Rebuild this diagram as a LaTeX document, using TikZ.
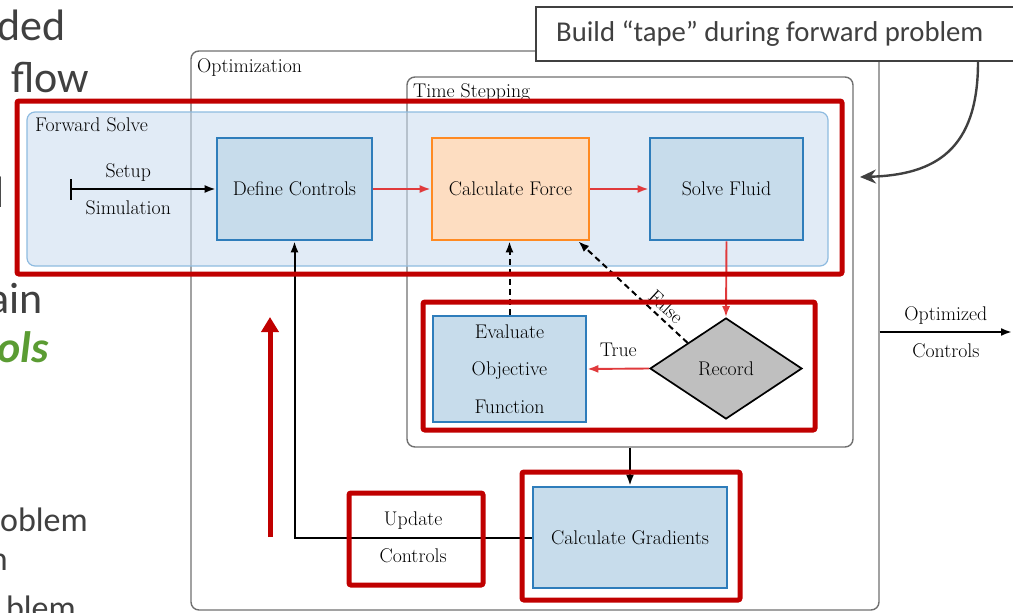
\documentclass[tikz,border=0pt]{standalone}
\usepackage{fontspec}
\newfontfamily\slidefont{Carlito}
\usetikzlibrary{arrows.meta,shapes.geometric}
\definecolor{hlred}{HTML}{C00000}
\definecolor{arred}{HTML}{E03A3C}
\definecolor{bluefill}{HTML}{C7DCEB}
\definecolor{blueline}{HTML}{2E7DBB}
\definecolor{orangefill}{HTML}{FDDDC1}
\definecolor{orangeline}{HTML}{FF8A22}
\definecolor{fsfill}{HTML}{C9DAEE}
\definecolor{fsline}{HTML}{8EBBE0}
\definecolor{contgray}{HTML}{707070}
\definecolor{recfill}{HTML}{BFBFBF}
\definecolor{tapegray}{HTML}{404040}
\definecolor{slidegray}{HTML}{404040}
\definecolor{slidegreen}{HTML}{5B9C33}
\tikzset{
  diag/.style={font=\fontsize{19.8}{23.8}\selectfont, text=black},
  box/.style={diag, draw=blueline, fill=bluefill, line width=2.6pt, inner sep=0pt, minimum width=155pt, minimum height=102pt},
  forcebox/.style={box, draw=orangeline, fill=orangefill},
  container/.style={draw=contgray, line width=1.4pt, rounded corners=8pt, inner sep=0pt},
  grouplabel/.style={diag, anchor=base west, inner sep=0pt},
  conn/.style={line width=2pt, -{Latex[length=11pt,width=8pt]}},
  redconn/.style={draw=arred, line width=1.9pt, -{Latex[length=11pt,width=8pt]}},
  dashconn/.style={conn, dash pattern=on 6pt off 4pt},
  lblabove/.style={diag, anchor=base, yshift=12pt, inner sep=0pt},
  lblbelow/.style={diag, anchor=base, yshift=-25pt, inner sep=0pt},
  highlight/.style={draw=hlred, line width=5pt, rounded corners=2pt},
  slidetext/.style={font=\slidefont\fontsize{44}{52}\selectfont, text=slidegray, anchor=base east, inner sep=0pt},
  slidesmall/.style={font=\slidefont\fontsize{34}{40}\selectfont, text=slidegray, anchor=base east, inner sep=0pt},
}
\begin{document}
\begin{tikzpicture}[x=1pt,y=-1pt]
\useasboundingbox (0,0) rectangle (1013,613);
\clip (0,0) rectangle (1013,613);

% fragments of slide text on the left
\node[slidetext] (t1) at (66,41) {ded};
\node[slidetext] (t2) at (89,92) {flow};
\node[slidetext] (t3) at (5,207) {l};
\node[slidetext] (t4) at (43,313) {ain};
\node[slidetext, font=\slidefont\bfseries\itshape\fontsize{44}{52}\selectfont, text=slidegreen] (t5) at (49,362) {ols};
\node[slidesmall] (t6) at (88,531) {oblem};
\node[slidesmall] (t7) at (8,570) {n};
\node[slidesmall] (t8) at (76,619) {blem};

% containers
\node[container, minimum width=688pt, minimum height=559pt] (opt) at (535,330.5) {};
\node[grouplabel] (optl) at (197,72) {Optimization};
\node[container, minimum width=446pt, minimum height=370pt] (ts) at (630,262) {};
\node[grouplabel] (tsl) at (413,97) {Time Stepping};
\node[draw=fsline, line width=1.2pt, fill=fsfill, fill opacity=0.55, rounded corners=8pt, minimum width=801pt, minimum height=154pt, inner sep=0pt] (fs) at (427.5,189) {};
\node[grouplabel] (fsl) at (35,131) {Forward Solve};

% process nodes
\node[box] (dc) at (294.5,189) {Define Controls};
\node[forcebox, minimum width=157pt] (cf) at (510.5,189) {Calculate Force};
\node[box, minimum width=153pt] (sf) at (726.5,189) {Solve Fluid};
\node[box, minimum width=153pt, minimum height=106pt, align=center, font=\fontsize{19.8}{37.7}\selectfont] (ev) at (509.5,369) {Evaluate\\Objective\\Function};
\node[diag, diamond, draw=black, line width=1.7pt, fill=recfill, aspect=1.5, minimum width=152pt, minimum height=101pt, inner sep=0pt] (rec) at (726,368.5) {Record};
\node[box, minimum width=194pt, minimum height=101pt] (cg) at (630,537.5) {Calculate Gradients};

% connectors
\coordinate (start) at (70,189);
\draw[line width=2pt, {Bar[width=21pt]}-{Latex[length=11pt,width=8pt]}] (start) -- node[lblabove, pos=0.4] {Setup} node[lblbelow, pos=0.4] {Simulation} (dc.west);
\draw[redconn] (dc.east) -- (cf.west);
\draw[redconn] (cf.east) -- (sf.west);
\draw[redconn] (sf.south) -- (rec.north);
\draw[redconn] (rec.west) -- node[lblabove] {True} (ev.east);
\draw[dashconn] (ev.north) -- (ev.north |- cf.south);
\draw[dashconn] (rec.north west) -- node[diag, sloped, above, pos=0.27, inner sep=4pt] {False} ([xshift=-12pt]cf.south east);
\draw[conn] (ts.south -| cg.north) -- (cg.north);
\draw[conn] (cg.west) -| node[lblabove, pos=0.25] {Update} node[lblbelow, pos=0.25] {Controls} (dc.south);
\coordinate (outend) at (1012,332);
\draw[conn] (outend -| opt.east) -- node[lblabove] {Optimized} node[lblbelow] {Controls} (outend);

% callout
\node[draw=tapegray, line width=2.4pt, fill=white, anchor=west, minimum width=520pt, minimum height=54pt, inner sep=0pt, font=\slidefont\fontsize{28.7}{34}\selectfont, text=slidegray] (tape) at (535,34) {\makebox[480pt][l]{Build “tape” during forward problem}};
\coordinate (tapeTip) at (860,177);
\draw[tapegray, line width=2.4pt, -{Stealth[length=16pt,width=14pt]}] ([xshift=443pt]tape.south west) .. controls (978,150) and (935,175) .. (tapeTip);

% highlights
\draw[highlight] (17,101) rectangle (842,274);
\draw[highlight] (423,302) rectangle (815,430);
\draw[highlight] (349,493) rectangle (483,585);
\draw[highlight] (522,472) rectangle (740,600);
\coordinate (ra1) at (270,537);
\coordinate (ra2) at (270,317);
\draw[hlred, line width=5pt, -{Triangle[length=15pt,width=17pt]}] (ra1) -- (ra2);
\end{tikzpicture}
\end{document}
